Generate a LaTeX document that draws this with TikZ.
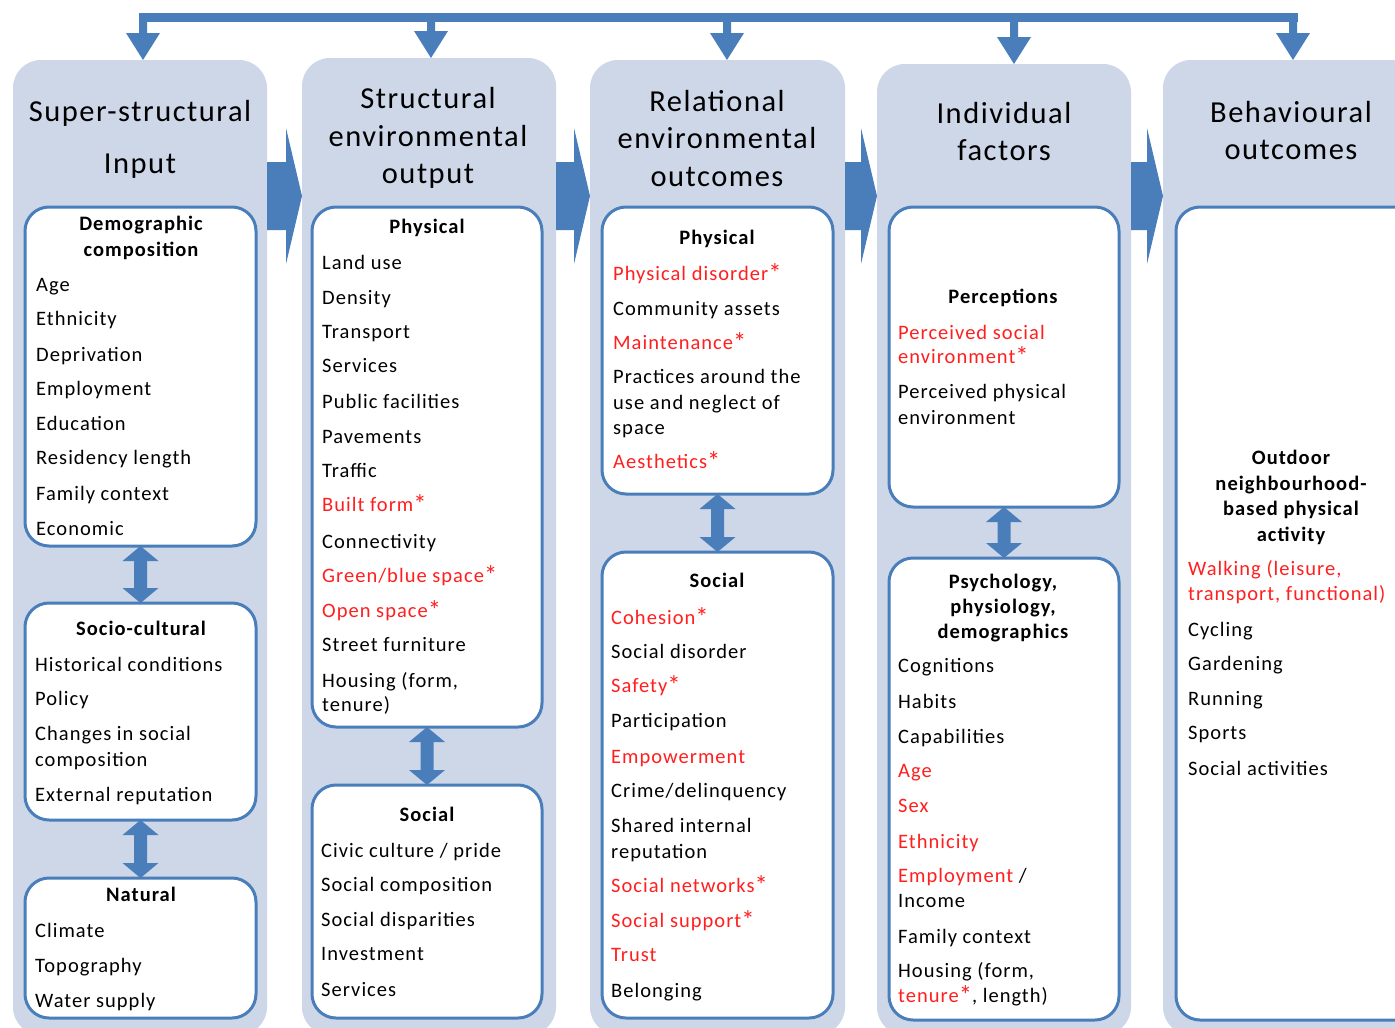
\documentclass[tikz,border=0pt]{standalone}
\usepackage{fontspec}
\usepackage{graphicx}
\setmainfont{Carlito}[LetterSpace=5]
\usetikzlibrary{calc}
\definecolor{colbg}{HTML}{CDD7E8}
\definecolor{bblue}{HTML}{4A7EBB}
\definecolor{tred}{HTML}{FF1F1F}
\newcommand\rd[1]{\textcolor{tred}{#1}}
\newcommand\st{\raisebox{-2pt}{\scalebox{1.3}{*}}}
\newcommand\bodyf{\fontsize{20.5}{24}\selectfont}
\newcommand\headf{\fontsize{30.5}{36}\selectfont}
\newcommand\itemlist[3]{\foreach \yy/\txt [count=\k] in {#3}{\node[item] (#1-\k) at (#2,\yy+6) {\txt};}}
\newcommand\titlelist[3]{\foreach \yy/\txt [count=\k] in {#3}{\node[ttl] (#1-\k) at (#2,\yy+6) {\txt};}}
\newcommand\headlist[3]{\foreach \yy/\txt [count=\k] in {#3}{\node[hdr] (#1-\k) at (#2,\yy+10) {\txt};}}
\newcommand\dblarrow[2]{\fill[bblue] (#1) -- ++(18,15) -- ++(-11.5,0) -- ($(#2)+(6.5,-15)$) -- ++(11.5,0) -- (#2) -- ++(-18,-15) -- ++(11.5,0) -- ($(#1)+(-6.5,15)$) -- ++(-11.5,0) -- cycle;}
\newcommand\bigarrow[2]{\fill[bblue] ($(#1)+(0,-34)$) -- ($(#2)+(-16,-34)$) -- ($(#2)+(-16,-68)$) -- (#2) -- ($(#2)+(-16,68)$) -- ($(#2)+(-16,34)$) -- ($(#1)+(0,34)$) -- cycle;}
\newcommand\toparrow[2]{\fill[bblue] ($(#1)+(-4,0)$) -- ($(#2)+(-4,-27)$) -- ++(-13,0) -- (#2) -- ++(17,-27) -- ++(-13,0) -- ($(#1)+(4,0)$) -- cycle;}
\begin{document}
\begin{tikzpicture}[x=1pt,y=-1pt,
  colbox/.style={fill=colbg, draw=none, rounded corners=28pt, anchor=north west, inner sep=0pt, outer sep=0pt},
  wbox/.style={draw=bblue, line width=3pt, fill=white, rounded corners=24pt, anchor=north west, inner sep=0pt, outer sep=0pt},
  item/.style={anchor=base west, inner sep=0pt, font=\bodyf},
  ttl/.style={anchor=base, inner sep=0pt, font=\bodyf\bfseries},
  hdr/.style={anchor=base, inner sep=0pt, font=\headf},
]
\useasboundingbox (0,0) rectangle (1395,1028);
\fill[white] (0,0) rectangle (1395,1028);

% columns
\node[colbox, minimum width=254pt, minimum height=975pt] (c1) at (13,60) {};
\node[colbox, minimum width=254pt, minimum height=977pt] (c2) at (302,58) {};
\node[colbox, minimum width=255pt, minimum height=975pt] (c3) at (590,60) {};
\node[colbox, minimum width=254pt, minimum height=971pt] (c4) at (877,64) {};
\node[colbox, minimum width=262pt, minimum height=975pt] (c5) at (1163,60) {};

% top feedback arrows
\coordinate (b1) at (143,17);
\coordinate (b2) at (431,17);
\coordinate (b3) at (727,17);
\coordinate (b4) at (1014,17);
\coordinate (b5) at (1293,17);
\draw[bblue, line width=9pt, line cap=rect] (b1) -- (b5);
\coordinate (t1) at (b1 |- c1.north);
\coordinate (t2) at (b2 |- c2.north);
\coordinate (t3) at (b3 |- c3.north);
\coordinate (t4) at (b4 |- c4.north);
\coordinate (t5) at (b5 |- c5.north);
\toparrow{b1}{t1}
\toparrow{b2}{t2}
\toparrow{b3}{t3}
\toparrow{b4}{t4}
\toparrow{b5}{t5}

% block arrows between columns
\coordinate (r1) at (c1.east |- 0,196);
\coordinate (e1) at (c2.west |- 0,196);
\coordinate (r2) at (c2.east |- 0,196);
\coordinate (e2) at (c3.west |- 0,196);
\coordinate (r3) at (c3.east |- 0,196);
\coordinate (e3) at (c4.west |- 0,196);
\coordinate (r4) at (c4.east |- 0,196);
\coordinate (e4) at (c5.west |- 0,196);
\bigarrow{r1}{e1}
\bigarrow{r2}{e2}
\bigarrow{r3}{e3}
\bigarrow{r4}{e4}

% white boxes
\node[wbox, minimum width=231pt, minimum height=339pt] (d1) at (25,207) {};
\node[wbox, minimum width=231pt, minimum height=217pt] (s1) at (25,603) {};
\node[wbox, minimum width=231pt, minimum height=140pt] (n1) at (25,878) {};
\node[wbox, minimum width=230pt, minimum height=520pt] (p2) at (312,207) {};
\node[wbox, minimum width=230pt, minimum height=233pt] (s2) at (312,785) {};
\node[wbox, minimum width=231pt, minimum height=287pt] (p3) at (602,207) {};
\node[wbox, minimum width=231pt, minimum height=466pt] (s3) at (602,552) {};
\node[wbox, minimum width=230pt, minimum height=300pt] (p4) at (889,207) {};
\node[wbox, minimum width=230pt, minimum height=462pt] (s4) at (889,558) {};
\node[wbox, minimum width=262pt, minimum height=813pt] (o5) at (1176,207) {};

% double arrows
\dblarrow{d1.south}{s1.north}
\dblarrow{s1.south}{n1.north}
\dblarrow{p2.south}{s2.north}
\dblarrow{p3.south}{s3.north}
\dblarrow{p4.south}{s4.north}

% headers
\headlist{h1}{140}{111/Super-structural, 163/Input}
\headlist{h2}{428}{98/Structural, 136/environmental, 173/output}
\headlist{h3}{717}{101/Relational, 138/environmental, 176/outcomes}
\headlist{h4}{1004}{113/Individual, 150/factors}
\headlist{h5}{1291}{112/Behavioural, 149/outcomes}

% column 1
\titlelist{d1t}{141}{224/Demographic, 250/composition}
\itemlist{d1i}{36}{285/Age, 319/Ethnicity, 355/Deprivation, 389/Employment, 424/Education, 458/Residency length, 494/Family context, 529/Economic}
\titlelist{s1t}{141}{629/Socio-cultural}
\itemlist{s1i}{35}{665/Historical conditions, 699/Policy, 734/Changes in social, 760/composition, 795/External reputation}
\titlelist{n1t}{141}{895/Natural}
\itemlist{n1i}{35}{931/Climate, 966/Topography, 1001/Water supply}

% column 2
\titlelist{p2t}{427}{227/Physical}
\itemlist{p2i}{322}{263/Land use, 298/Density, 332/Transport, 366/Services, 402/Public facilities, 437/Pavements, 471/Traffic, 505/{\rd{Built form\st}}, 542/Connectivity, 576/{\rd{Green/blue space\st}}, 611/{\rd{Open space\st}}, 645/Street furniture, 681/{Housing (form,}, 705/tenure)}
\titlelist{s2t}{427}{815/Social}
\itemlist{s2i}{321}{851/{Civic culture / pride}, 885/Social composition, 920/Social disparities, 954/Investment, 990/Services}

% column 3
\titlelist{p3t}{717}{238/Physical}
\itemlist{p3i}{613}{274/{\rd{Physical disorder\st}}, 309/Community assets, 343/{\rd{Maintenance\st}}, 377/Practices around the, 403/use and neglect of, 428/space, 462/{\rd{Aesthetics\st}}}
\titlelist{s3t}{717}{581/Social}
\itemlist{s3i}{611}{618/{\rd{Cohesion\st}}, 652/Social disorder, 686/{\rd{Safety\st}}, 721/Participation, 757/{\rd{Empowerment}}, 791/{Crime/delinquency}, 826/Shared internal, 852/reputation, 886/{\rd{Social networks\st}}, 921/{\rd{Social support\st}}, 955/{\rd{Trust}}, 991/Belonging}

% column 4
\titlelist{p4t}{1003}{297/Perceptions}
\itemlist{p4i}{898}{333/{\rd{Perceived social}}, 357/{\rd{environment\st}}, 392/Perceived physical, 418/environment}
\titlelist{s4t}{1003}{582/{Psychology,}, 607/{physiology,}, 632/demographics}
\itemlist{s4i}{898}{666/Cognitions, 702/Habits, 737/Capabilities, 771/{\rd{Age}}, 806/{\rd{Sex}}, 842/{\rd{Ethnicity}}, 876/{\rd{Employment} /}, 901/Income, 937/Family context, 971/{Housing (form,}, 996/{\rd{tenure\st}, length)}}

% column 5
\titlelist{o5t}{1291}{458/Outdoor, 484/neighbourhood-, 509/based physical, 535/activity}
\itemlist{o5i}{1188}{569/{\rd{Walking (leisure,}}, 594/{\rd{transport, functional)}}, 630/Cycling, 664/Gardening, 699/Running, 733/Sports, 769/Social activities}
\end{tikzpicture}
\end{document}
